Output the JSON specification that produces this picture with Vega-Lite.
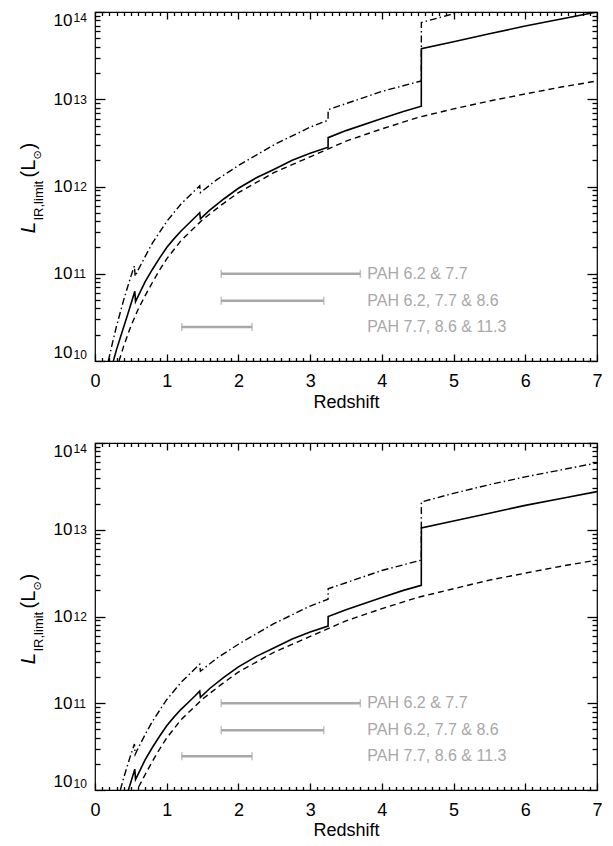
{
  "$schema": "https://vega.github.io/schema/vega-lite/v6.json",
  "autosize": {"type": "pad"},
  "padding": {"left": 16, "top": 10, "right": 0, "bottom": 0},
  "background": "white",
  "bounds": "flush",
  "spacing": 82,
  "datasets": {
    "top": [
      {"z": 0.256, "L": 1.00e10, "s": "solid"},
      {"z": 0.30, "L": 1.35e10, "s": "solid"},
      {"z": 0.35, "L": 1.82e10, "s": "solid"},
      {"z": 0.40, "L": 2.45e10, "s": "solid"},
      {"z": 0.45, "L": 3.31e10, "s": "solid"},
      {"z": 0.50, "L": 4.47e10, "s": "solid"},
      {"z": 0.555, "L": 6.31e10, "s": "solid"},
      {"z": 0.565, "L": 4.79e10, "s": "solid"},
      {"z": 0.60, "L": 5.50e10, "s": "solid"},
      {"z": 0.70, "L": 8.13e10, "s": "solid"},
      {"z": 0.80, "L": 1.12e11, "s": "solid"},
      {"z": 0.90, "L": 1.51e11, "s": "solid"},
      {"z": 1.00, "L": 2.00e11, "s": "solid"},
      {"z": 1.10, "L": 2.51e11, "s": "solid"},
      {"z": 1.20, "L": 3.09e11, "s": "solid"},
      {"z": 1.30, "L": 3.72e11, "s": "solid"},
      {"z": 1.40, "L": 4.47e11, "s": "solid"},
      {"z": 1.46, "L": 5.01e11, "s": "solid"},
      {"z": 1.47, "L": 4.27e11, "s": "solid"},
      {"z": 1.60, "L": 5.37e11, "s": "solid"},
      {"z": 1.80, "L": 7.24e11, "s": "solid"},
      {"z": 2.00, "L": 9.55e11, "s": "solid"},
      {"z": 2.25, "L": 1.26e12, "s": "solid"},
      {"z": 2.50, "L": 1.58e12, "s": "solid"},
      {"z": 2.75, "L": 2.00e12, "s": "solid"},
      {"z": 3.00, "L": 2.40e12, "s": "solid"},
      {"z": 3.25, "L": 2.82e12, "s": "solid"},
      {"z": 3.251, "L": 3.63e12, "s": "solid"},
      {"z": 3.50, "L": 4.37e12, "s": "solid"},
      {"z": 4.00, "L": 6.03e12, "s": "solid"},
      {"z": 4.30, "L": 7.24e12, "s": "solid"},
      {"z": 4.55, "L": 8.32e12, "s": "solid"},
      {"z": 4.551, "L": 3.80e13, "s": "solid"},
      {"z": 5.00, "L": 4.57e13, "s": "solid"},
      {"z": 5.50, "L": 5.62e13, "s": "solid"},
      {"z": 6.00, "L": 6.92e13, "s": "solid"},
      {"z": 6.50, "L": 8.32e13, "s": "solid"},
      {"z": 7.00, "L": 1.00e14, "s": "solid"},
      {"z": 0.335, "L": 1.00e10, "s": "dashed"},
      {"z": 0.40, "L": 1.48e10, "s": "dashed"},
      {"z": 0.50, "L": 2.51e10, "s": "dashed"},
      {"z": 0.60, "L": 3.89e10, "s": "dashed"},
      {"z": 0.70, "L": 5.62e10, "s": "dashed"},
      {"z": 0.80, "L": 7.94e10, "s": "dashed"},
      {"z": 0.90, "L": 1.10e11, "s": "dashed"},
      {"z": 1.00, "L": 1.48e11, "s": "dashed"},
      {"z": 1.20, "L": 2.40e11, "s": "dashed"},
      {"z": 1.50, "L": 4.17e11, "s": "dashed"},
      {"z": 1.75, "L": 6.03e11, "s": "dashed"},
      {"z": 2.00, "L": 8.51e11, "s": "dashed"},
      {"z": 2.50, "L": 1.45e12, "s": "dashed"},
      {"z": 3.00, "L": 2.19e12, "s": "dashed"},
      {"z": 3.50, "L": 3.31e12, "s": "dashed"},
      {"z": 4.00, "L": 4.57e12, "s": "dashed"},
      {"z": 4.50, "L": 6.17e12, "s": "dashed"},
      {"z": 5.00, "L": 7.76e12, "s": "dashed"},
      {"z": 5.50, "L": 9.55e12, "s": "dashed"},
      {"z": 6.00, "L": 1.15e13, "s": "dashed"},
      {"z": 6.50, "L": 1.38e13, "s": "dashed"},
      {"z": 7.00, "L": 1.62e13, "s": "dashed"},
      {"z": 0.186, "L": 1.00e10, "s": "dashdot"},
      {"z": 0.25, "L": 1.70e10, "s": "dashdot"},
      {"z": 0.30, "L": 2.51e10, "s": "dashdot"},
      {"z": 0.40, "L": 5.01e10, "s": "dashdot"},
      {"z": 0.50, "L": 9.33e10, "s": "dashdot"},
      {"z": 0.55, "L": 1.23e11, "s": "dashdot"},
      {"z": 0.56, "L": 9.33e10, "s": "dashdot"},
      {"z": 0.60, "L": 1.10e11, "s": "dashdot"},
      {"z": 0.70, "L": 1.58e11, "s": "dashdot"},
      {"z": 0.80, "L": 2.24e11, "s": "dashdot"},
      {"z": 1.00, "L": 3.98e11, "s": "dashdot"},
      {"z": 1.20, "L": 6.31e11, "s": "dashdot"},
      {"z": 1.46, "L": 1.02e12, "s": "dashdot"},
      {"z": 1.47, "L": 8.51e11, "s": "dashdot"},
      {"z": 1.70, "L": 1.20e12, "s": "dashdot"},
      {"z": 2.00, "L": 1.74e12, "s": "dashdot"},
      {"z": 2.50, "L": 3.02e12, "s": "dashdot"},
      {"z": 3.00, "L": 4.79e12, "s": "dashdot"},
      {"z": 3.25, "L": 5.75e12, "s": "dashdot"},
      {"z": 3.251, "L": 7.59e12, "s": "dashdot"},
      {"z": 3.50, "L": 8.91e12, "s": "dashdot"},
      {"z": 4.00, "L": 1.23e13, "s": "dashdot"},
      {"z": 4.55, "L": 1.62e13, "s": "dashdot"},
      {"z": 4.551, "L": 7.59e13, "s": "dashdot"},
      {"z": 5.00, "L": 9.55e13, "s": "dashdot"},
      {"z": 5.50, "L": 1.20e14, "s": "dashdot"},
      {"z": 6.00, "L": 1.48e14, "s": "dashdot"},
      {"z": 6.50, "L": 1.78e14, "s": "dashdot"},
      {"z": 7.00, "L": 2.14e14, "s": "dashdot"}
    ],
    "bot": [
      {"z": 0.40, "L": 6.76e9, "s": "solid"},
      {"z": 0.45, "L": 9.12e9, "s": "solid"},
      {"z": 0.50, "L": 1.23e10, "s": "solid"},
      {"z": 0.555, "L": 1.74e10, "s": "solid"},
      {"z": 0.565, "L": 1.32e10, "s": "solid"},
      {"z": 0.60, "L": 1.51e10, "s": "solid"},
      {"z": 0.70, "L": 2.24e10, "s": "solid"},
      {"z": 0.80, "L": 3.09e10, "s": "solid"},
      {"z": 0.90, "L": 4.17e10, "s": "solid"},
      {"z": 1.00, "L": 5.50e10, "s": "solid"},
      {"z": 1.10, "L": 6.92e10, "s": "solid"},
      {"z": 1.20, "L": 8.51e10, "s": "solid"},
      {"z": 1.30, "L": 1.02e11, "s": "solid"},
      {"z": 1.40, "L": 1.23e11, "s": "solid"},
      {"z": 1.46, "L": 1.38e11, "s": "solid"},
      {"z": 1.47, "L": 1.17e11, "s": "solid"},
      {"z": 1.60, "L": 1.48e11, "s": "solid"},
      {"z": 1.80, "L": 2.00e11, "s": "solid"},
      {"z": 2.00, "L": 2.63e11, "s": "solid"},
      {"z": 2.25, "L": 3.47e11, "s": "solid"},
      {"z": 2.50, "L": 4.37e11, "s": "solid"},
      {"z": 2.75, "L": 5.50e11, "s": "solid"},
      {"z": 3.00, "L": 6.61e11, "s": "solid"},
      {"z": 3.25, "L": 7.76e11, "s": "solid"},
      {"z": 3.251, "L": 1.00e12, "s": "solid"},
      {"z": 3.50, "L": 1.20e12, "s": "solid"},
      {"z": 4.00, "L": 1.66e12, "s": "solid"},
      {"z": 4.30, "L": 2.00e12, "s": "solid"},
      {"z": 4.55, "L": 2.29e12, "s": "solid"},
      {"z": 4.551, "L": 1.05e13, "s": "solid"},
      {"z": 5.00, "L": 1.26e13, "s": "solid"},
      {"z": 5.50, "L": 1.55e13, "s": "solid"},
      {"z": 6.00, "L": 1.91e13, "s": "solid"},
      {"z": 6.50, "L": 2.29e13, "s": "solid"},
      {"z": 7.00, "L": 2.75e13, "s": "solid"},
      {"z": 0.55, "L": 8.51e9, "s": "dashed"},
      {"z": 0.60, "L": 1.05e10, "s": "dashed"},
      {"z": 0.70, "L": 1.51e10, "s": "dashed"},
      {"z": 0.80, "L": 2.14e10, "s": "dashed"},
      {"z": 0.90, "L": 2.95e10, "s": "dashed"},
      {"z": 1.00, "L": 3.98e10, "s": "dashed"},
      {"z": 1.20, "L": 6.46e10, "s": "dashed"},
      {"z": 1.50, "L": 1.12e11, "s": "dashed"},
      {"z": 1.75, "L": 1.62e11, "s": "dashed"},
      {"z": 2.00, "L": 2.29e11, "s": "dashed"},
      {"z": 2.50, "L": 3.89e11, "s": "dashed"},
      {"z": 3.00, "L": 5.89e11, "s": "dashed"},
      {"z": 3.50, "L": 8.91e11, "s": "dashed"},
      {"z": 4.00, "L": 1.23e12, "s": "dashed"},
      {"z": 4.50, "L": 1.66e12, "s": "dashed"},
      {"z": 5.00, "L": 2.09e12, "s": "dashed"},
      {"z": 5.50, "L": 2.63e12, "s": "dashed"},
      {"z": 6.00, "L": 3.16e12, "s": "dashed"},
      {"z": 6.50, "L": 3.80e12, "s": "dashed"},
      {"z": 7.00, "L": 4.47e12, "s": "dashed"},
      {"z": 0.30, "L": 6.92e9, "s": "dashdot"},
      {"z": 0.40, "L": 1.38e10, "s": "dashdot"},
      {"z": 0.50, "L": 2.57e10, "s": "dashdot"},
      {"z": 0.55, "L": 3.39e10, "s": "dashdot"},
      {"z": 0.56, "L": 2.57e10, "s": "dashdot"},
      {"z": 0.60, "L": 3.02e10, "s": "dashdot"},
      {"z": 0.70, "L": 4.37e10, "s": "dashdot"},
      {"z": 0.80, "L": 6.17e10, "s": "dashdot"},
      {"z": 1.00, "L": 1.10e11, "s": "dashdot"},
      {"z": 1.20, "L": 1.74e11, "s": "dashdot"},
      {"z": 1.46, "L": 2.82e11, "s": "dashdot"},
      {"z": 1.47, "L": 2.34e11, "s": "dashdot"},
      {"z": 1.70, "L": 3.31e11, "s": "dashdot"},
      {"z": 2.00, "L": 4.79e11, "s": "dashdot"},
      {"z": 2.50, "L": 8.32e11, "s": "dashdot"},
      {"z": 3.00, "L": 1.32e12, "s": "dashdot"},
      {"z": 3.25, "L": 1.58e12, "s": "dashdot"},
      {"z": 3.251, "L": 2.09e12, "s": "dashdot"},
      {"z": 3.50, "L": 2.45e12, "s": "dashdot"},
      {"z": 4.00, "L": 3.39e12, "s": "dashdot"},
      {"z": 4.55, "L": 4.47e12, "s": "dashdot"},
      {"z": 4.551, "L": 2.09e13, "s": "dashdot"},
      {"z": 5.00, "L": 2.63e13, "s": "dashdot"},
      {"z": 5.50, "L": 3.31e13, "s": "dashdot"},
      {"z": 6.00, "L": 4.07e13, "s": "dashdot"},
      {"z": 6.50, "L": 4.90e13, "s": "dashdot"},
      {"z": 7.00, "L": 5.89e13, "s": "dashdot"}
    ],
    "pah": [
      {"z1": 1.76, "z2": 3.70, "L": 1.0e11, "label": "PAH 6.2 & 7.7"},
      {"z1": 1.76, "z2": 3.19, "L": 4.9e10, "label": "PAH 6.2, 7.7 & 8.6"},
      {"z1": 1.21, "z2": 2.19, "L": 2.45e10, "label": "PAH 7.7, 8.6 & 11.3"}
    ]
  },
  "vconcat": [
    {
      "width": 502, "height": 349,
      "resolve": {"axis": {"x": "independent", "y": "independent"}},
      "layer": [
        {
          "data": {"name": "top"},
          "transform": [{"filter": "datum.s === 'solid'"}],
          "mark": {"type": "line", "clip": true, "color": "black", "strokeWidth": 1.6},
          "encoding": {
            "x": {"field": "z", "type": "quantitative", "scale": {"domain": [0, 7], "nice": false, "zero": false},
                  "axis": {"orient": "bottom", "values": [0,1,2,3,4,5,6,7], "ticks": false, "labelFontSize": 18, "labelBaseline": "alphabetic", "labelPadding": 25, "labelFlush": false, "labelOverlap": false, "title": "Redshift", "titleFontSize": 18, "titleBaseline": "alphabetic", "titleAlign": "center", "titleX": 251, "titleY": 46}},
            "y": {"field": "L", "type": "quantitative", "scale": {"type": "log", "domain": [1e10, 1e14], "nice": false},
                  "axis": {"orient": "left", "values": [1e10,1e11,1e12,1e13,1e14], "labels": false, "tickSize": -10, "title": "L", "titleFontSize": 21, "titleFontStyle": "italic", "titleAngle": -90, "titleAlign": "left", "titleBaseline": "alphabetic", "titleX": -61, "titleY": 221}}
          }
        },
        {
          "data": {"name": "top"},
          "transform": [{"filter": "datum.s === 'dashed'"}],
          "mark": {"type": "line", "clip": true, "color": "black", "strokeWidth": 1.4, "strokeDash": [6, 4]},
          "encoding": {
            "x": {"field": "z", "type": "quantitative", "scale": {"domain": [0, 7], "nice": false, "zero": false},
                  "axis": {"orient": "bottom", "values": [0,1,2,3,4,5,6,7], "labels": false, "tickSize": -7, "title": null}},
            "y": {"field": "L", "type": "quantitative", "scale": {"type": "log", "domain": [1e10, 1e14], "nice": false},
                  "axis": {"orient": "left", "values": [1e10,1e11,1e12,1e13,1e14], "ticks": false, "labelExpr": "'10'", "labelFontSize": 17, "labelPadding": 23, "labelFlush": true, "labelOverlap": false, "title": "IR,limit", "titleFontSize": 13, "titleAngle": -90, "titleAlign": "left", "titleBaseline": "alphabetic", "titleX": -53, "titleY": 208}}
          }
        },
        {
          "data": {"name": "top"},
          "transform": [{"filter": "datum.s === 'dashdot'"}],
          "mark": {"type": "line", "clip": true, "color": "black", "strokeWidth": 1.4, "strokeDash": [7, 3, 1.5, 3]},
          "encoding": {
            "x": {"field": "z", "type": "quantitative", "scale": {"domain": [0, 7], "nice": false, "zero": false},
                  "axis": {"orient": "bottom", "values": [0.1,0.2,0.3,0.4,0.5,0.6,0.7,0.8,0.9,1.1,1.2,1.3,1.4,1.5,1.6,1.7,1.8,1.9,2.1,2.2,2.3,2.4,2.5,2.6,2.7,2.8,2.9,3.1,3.2,3.3,3.4,3.5,3.6,3.7,3.8,3.9,4.1,4.2,4.3,4.4,4.5,4.6,4.7,4.8,4.9,5.1,5.2,5.3,5.4,5.5,5.6,5.7,5.8,5.9,6.1,6.2,6.3,6.4,6.5,6.6,6.7,6.8,6.9], "labels": false, "tickSize": -3.5, "title": null}},
            "y": {"field": "L", "type": "quantitative", "scale": {"type": "log", "domain": [1e10, 1e14], "nice": false},
                  "axis": {"orient": "left", "values": [1e10,1e11,1e12,1e13,1e14], "ticks": false, "labelExpr": "'' + round(log(datum.value) / LN10)", "labelFontSize": 12, "labelAlign": "left", "labelPadding": 22, "labelDy": -5, "labelFlush": true, "labelOverlap": false, "title": "(L", "titleFontSize": 20, "titleAngle": -90, "titleAlign": "left", "titleBaseline": "alphabetic", "titleX": -61, "titleY": 165}}
          }
        },
        {
          "data": {"name": "pah"},
          "mark": {"type": "rule", "color": "#a8a8a8", "strokeWidth": 2.5},
          "encoding": {
            "x": {"field": "z1", "type": "quantitative", "scale": {"domain": [0, 7], "nice": false, "zero": false},
                  "axis": {"orient": "top", "values": [0,1,2,3,4,5,6,7], "labels": false, "tickSize": -7, "title": null}},
            "x2": {"field": "z2"},
            "y": {"field": "L", "type": "quantitative", "scale": {"type": "log", "domain": [1e10, 1e14], "nice": false},
                  "axis": {"orient": "left", "values": [2e10,3e10,4e10,5e10,6e10,7e10,8e10,9e10,2e11,3e11,4e11,5e11,6e11,7e11,8e11,9e11,2e12,3e12,4e12,5e12,6e12,7e12,8e12,9e12,2e13,3e13,4e13,5e13,6e13,7e13,8e13,9e13], "labels": false, "tickSize": -5, "title": "⊙", "titleFont": "DejaVu Sans", "titleFontSize": 11, "titleAngle": -90, "titleAlign": "left", "titleBaseline": "alphabetic", "titleX": -55, "titleY": 147}}
          }
        },
        {
          "data": {"name": "pah"},
          "transform": [{"fold": ["z1", "z2"], "as": ["end", "zz"]}],
          "mark": {"type": "tick", "orient": "vertical", "color": "#a8a8a8", "size": 8, "thickness": 1.5},
          "encoding": {
            "x": {"field": "zz", "type": "quantitative", "scale": {"domain": [0, 7], "nice": false, "zero": false},
                  "axis": {"orient": "top", "values": [0.1,0.2,0.3,0.4,0.5,0.6,0.7,0.8,0.9,1.1,1.2,1.3,1.4,1.5,1.6,1.7,1.8,1.9,2.1,2.2,2.3,2.4,2.5,2.6,2.7,2.8,2.9,3.1,3.2,3.3,3.4,3.5,3.6,3.7,3.8,3.9,4.1,4.2,4.3,4.4,4.5,4.6,4.7,4.8,4.9,5.1,5.2,5.3,5.4,5.5,5.6,5.7,5.8,5.9,6.1,6.2,6.3,6.4,6.5,6.6,6.7,6.8,6.9], "labels": false, "tickSize": -3.5, "title": null}},
            "y": {"field": "L", "type": "quantitative", "scale": {"type": "log", "domain": [1e10, 1e14], "nice": false},
                  "axis": {"orient": "right", "values": [1e10,1e11,1e12,1e13,1e14], "labels": false, "tickSize": -10, "title": ")", "titleFontSize": 20, "titleAngle": -90, "titleAlign": "left", "titleBaseline": "alphabetic", "titleX": -563, "titleY": 137}}
          }
        },
        {
          "data": {"name": "pah"},
          "mark": {"type": "text", "align": "left", "baseline": "middle", "dx": 7, "fontSize": 16, "color": "#a8a8a8", "font": "Liberation Sans"},
          "encoding": {
            "x": {"datum": 3.7, "type": "quantitative", "scale": {"domain": [0, 7], "nice": false, "zero": false}, "axis": null},
            "y": {"field": "L", "type": "quantitative", "scale": {"type": "log", "domain": [1e10, 1e14], "nice": false},
                  "axis": {"orient": "right", "values": [2e10,3e10,4e10,5e10,6e10,7e10,8e10,9e10,2e11,3e11,4e11,5e11,6e11,7e11,8e11,9e11,2e12,3e12,4e12,5e12,6e12,7e12,8e12,9e12,2e13,3e13,4e13,5e13,6e13,7e13,8e13,9e13], "labels": false, "tickSize": -5, "title": null}},
            "text": {"field": "label"}
          }
        }
      ]
    },
    {
      "width": 502, "height": 347,
      "resolve": {"axis": {"x": "independent", "y": "independent"}},
      "layer": [
        {
          "data": {"name": "bot"},
          "transform": [{"filter": "datum.s === 'solid'"}],
          "mark": {"type": "line", "clip": true, "color": "black", "strokeWidth": 1.6},
          "encoding": {
            "x": {"field": "z", "type": "quantitative", "scale": {"domain": [0, 7], "nice": false, "zero": false},
                  "axis": {"orient": "bottom", "values": [0,1,2,3,4,5,6,7], "ticks": false, "labelFontSize": 18, "labelBaseline": "alphabetic", "labelPadding": 25, "labelFlush": false, "labelOverlap": false, "title": "Redshift", "titleFontSize": 18, "titleBaseline": "alphabetic", "titleAlign": "center", "titleX": 251, "titleY": 45}},
            "y": {"field": "L", "type": "quantitative", "scale": {"type": "log", "domain": [1e10, 1e14], "nice": false},
                  "axis": {"orient": "left", "values": [1e10,1e11,1e12,1e13,1e14], "labels": false, "tickSize": -10, "title": "L", "titleFontSize": 21, "titleFontStyle": "italic", "titleAngle": -90, "titleAlign": "left", "titleBaseline": "alphabetic", "titleX": -61, "titleY": 221}}
          }
        },
        {
          "data": {"name": "bot"},
          "transform": [{"filter": "datum.s === 'dashed'"}],
          "mark": {"type": "line", "clip": true, "color": "black", "strokeWidth": 1.4, "strokeDash": [6, 4]},
          "encoding": {
            "x": {"field": "z", "type": "quantitative", "scale": {"domain": [0, 7], "nice": false, "zero": false},
                  "axis": {"orient": "bottom", "values": [0,1,2,3,4,5,6,7], "labels": false, "tickSize": -7, "title": null}},
            "y": {"field": "L", "type": "quantitative", "scale": {"type": "log", "domain": [1e10, 1e14], "nice": false},
                  "axis": {"orient": "left", "values": [1e10,1e11,1e12,1e13,1e14], "ticks": false, "labelExpr": "'10'", "labelFontSize": 17, "labelPadding": 23, "labelFlush": true, "labelOverlap": false, "title": "IR,limit", "titleFontSize": 13, "titleAngle": -90, "titleAlign": "left", "titleBaseline": "alphabetic", "titleX": -53, "titleY": 208}}
          }
        },
        {
          "data": {"name": "bot"},
          "transform": [{"filter": "datum.s === 'dashdot'"}],
          "mark": {"type": "line", "clip": true, "color": "black", "strokeWidth": 1.4, "strokeDash": [7, 3, 1.5, 3]},
          "encoding": {
            "x": {"field": "z", "type": "quantitative", "scale": {"domain": [0, 7], "nice": false, "zero": false},
                  "axis": {"orient": "bottom", "values": [0.1,0.2,0.3,0.4,0.5,0.6,0.7,0.8,0.9,1.1,1.2,1.3,1.4,1.5,1.6,1.7,1.8,1.9,2.1,2.2,2.3,2.4,2.5,2.6,2.7,2.8,2.9,3.1,3.2,3.3,3.4,3.5,3.6,3.7,3.8,3.9,4.1,4.2,4.3,4.4,4.5,4.6,4.7,4.8,4.9,5.1,5.2,5.3,5.4,5.5,5.6,5.7,5.8,5.9,6.1,6.2,6.3,6.4,6.5,6.6,6.7,6.8,6.9], "labels": false, "tickSize": -3.5, "title": null}},
            "y": {"field": "L", "type": "quantitative", "scale": {"type": "log", "domain": [1e10, 1e14], "nice": false},
                  "axis": {"orient": "left", "values": [1e10,1e11,1e12,1e13,1e14], "ticks": false, "labelExpr": "'' + round(log(datum.value) / LN10)", "labelFontSize": 12, "labelAlign": "left", "labelPadding": 22, "labelDy": -5, "labelFlush": true, "labelOverlap": false, "title": "(L", "titleFontSize": 20, "titleAngle": -90, "titleAlign": "left", "titleBaseline": "alphabetic", "titleX": -61, "titleY": 165}}
          }
        },
        {
          "data": {"name": "pah"},
          "mark": {"type": "rule", "color": "#a8a8a8", "strokeWidth": 2.5},
          "encoding": {
            "x": {"field": "z1", "type": "quantitative", "scale": {"domain": [0, 7], "nice": false, "zero": false},
                  "axis": {"orient": "top", "values": [0,1,2,3,4,5,6,7], "labels": false, "tickSize": -7, "title": null}},
            "x2": {"field": "z2"},
            "y": {"field": "L", "type": "quantitative", "scale": {"type": "log", "domain": [1e10, 1e14], "nice": false},
                  "axis": {"orient": "left", "values": [2e10,3e10,4e10,5e10,6e10,7e10,8e10,9e10,2e11,3e11,4e11,5e11,6e11,7e11,8e11,9e11,2e12,3e12,4e12,5e12,6e12,7e12,8e12,9e12,2e13,3e13,4e13,5e13,6e13,7e13,8e13,9e13], "labels": false, "tickSize": -5, "title": "⊙", "titleFont": "DejaVu Sans", "titleFontSize": 11, "titleAngle": -90, "titleAlign": "left", "titleBaseline": "alphabetic", "titleX": -55, "titleY": 147}}
          }
        },
        {
          "data": {"name": "pah"},
          "transform": [{"fold": ["z1", "z2"], "as": ["end", "zz"]}],
          "mark": {"type": "tick", "orient": "vertical", "color": "#a8a8a8", "size": 8, "thickness": 1.5},
          "encoding": {
            "x": {"field": "zz", "type": "quantitative", "scale": {"domain": [0, 7], "nice": false, "zero": false},
                  "axis": {"orient": "top", "values": [0.1,0.2,0.3,0.4,0.5,0.6,0.7,0.8,0.9,1.1,1.2,1.3,1.4,1.5,1.6,1.7,1.8,1.9,2.1,2.2,2.3,2.4,2.5,2.6,2.7,2.8,2.9,3.1,3.2,3.3,3.4,3.5,3.6,3.7,3.8,3.9,4.1,4.2,4.3,4.4,4.5,4.6,4.7,4.8,4.9,5.1,5.2,5.3,5.4,5.5,5.6,5.7,5.8,5.9,6.1,6.2,6.3,6.4,6.5,6.6,6.7,6.8,6.9], "labels": false, "tickSize": -3.5, "title": null}},
            "y": {"field": "L", "type": "quantitative", "scale": {"type": "log", "domain": [1e10, 1e14], "nice": false},
                  "axis": {"orient": "right", "values": [1e10,1e11,1e12,1e13,1e14], "labels": false, "tickSize": -10, "title": ")", "titleFontSize": 20, "titleAngle": -90, "titleAlign": "left", "titleBaseline": "alphabetic", "titleX": -563, "titleY": 137}}
          }
        },
        {
          "data": {"name": "pah"},
          "mark": {"type": "text", "align": "left", "baseline": "middle", "dx": 7, "fontSize": 16, "color": "#a8a8a8", "font": "Liberation Sans"},
          "encoding": {
            "x": {"datum": 3.7, "type": "quantitative", "scale": {"domain": [0, 7], "nice": false, "zero": false}, "axis": null},
            "y": {"field": "L", "type": "quantitative", "scale": {"type": "log", "domain": [1e10, 1e14], "nice": false},
                  "axis": {"orient": "right", "values": [2e10,3e10,4e10,5e10,6e10,7e10,8e10,9e10,2e11,3e11,4e11,5e11,6e11,7e11,8e11,9e11,2e12,3e12,4e12,5e12,6e12,7e12,8e12,9e12,2e13,3e13,4e13,5e13,6e13,7e13,8e13,9e13], "labels": false, "tickSize": -5, "title": null}},
            "text": {"field": "label"}
          }
        }
      ]
    }
  ],
  "config": {
    "view": {"stroke": "black", "strokeWidth": 1.2},
    "axis": {"grid": false, "domain": false, "tickColor": "black", "tickWidth": 1.3, "labelColor": "black", "labelFont": "Liberation Sans", "titleFont": "Liberation Sans", "titleColor": "black", "titleFontWeight": "normal"}
  }
}
